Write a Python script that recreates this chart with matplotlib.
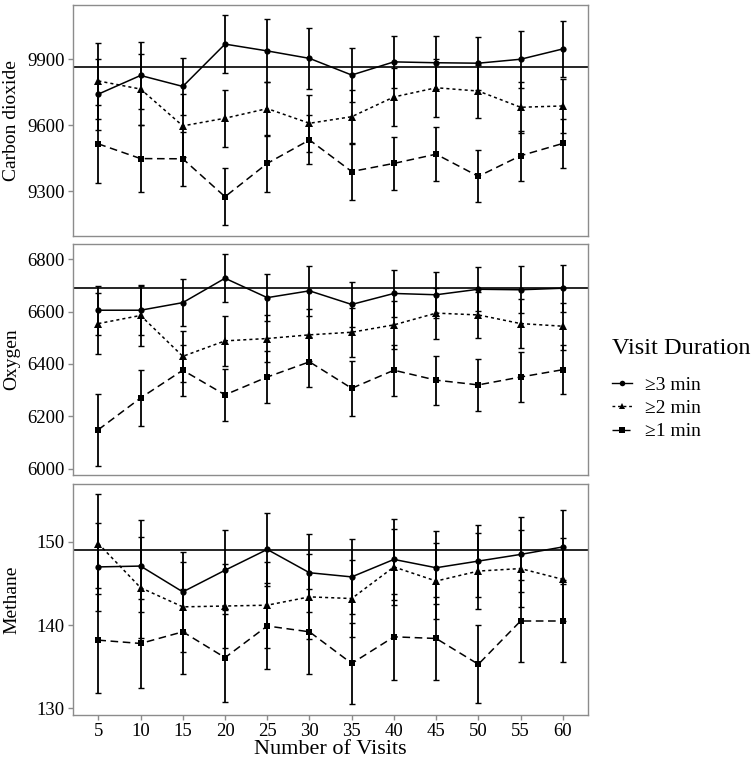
import matplotlib
matplotlib.use("Agg")
import matplotlib.pyplot as plt
from matplotlib.lines import Line2D

plt.rcParams['font.family'] = ['Liberation Serif', 'DejaVu Serif']

# Number of visits (x axis)
visits = [5, 10, 15, 20, 25, 30, 35, 40, 45, 50, 55, 60]

# Carbon dioxide
co2_3 = [9742, 9827, 9777, 9970, 9939, 9905, 9829, 9889, 9885, 9883, 9901, 9948]
co2_3_err = [162, 153, 129, 133, 144, 139, 124, 117, 120, 121, 129, 127]
co2_2 = [9802, 9765, 9597, 9632, 9676, 9609, 9639, 9729, 9771, 9756, 9682, 9688]
co2_2_err = [173, 162, 144, 129, 123, 130, 123, 132, 132, 121, 117, 123]
co2_1 = [9515, 9448, 9447, 9274, 9426, 9533, 9389, 9426, 9468, 9367, 9461, 9517]
co2_1_err = [179, 152, 124, 130, 130, 112, 129, 120, 124, 118, 114, 112]
co2_ref = 9864

# Oxygen
o2_3 = [6605, 6605, 6634, 6727, 6653, 6679, 6627, 6669, 6664, 6685, 6683, 6689]
o2_3_err = [94, 94, 89, 92, 89, 96, 87, 89, 88, 84, 89, 89]
o2_2 = [6554, 6585, 6429, 6488, 6497, 6511, 6521, 6549, 6594, 6587, 6554, 6544]
o2_2_err = [116, 115, 98, 96, 90, 99, 93, 93, 97, 89, 93, 89]
o2_1 = [6149, 6270, 6376, 6282, 6350, 6408, 6307, 6376, 6338, 6320, 6350, 6378]
o2_1_err = [138, 106, 98, 98, 101, 96, 104, 97, 94, 99, 97, 94]
o2_ref = 6689

# Methane
ch4_3 = [147.0, 147.1, 144.0, 146.6, 149.1, 146.3, 145.8, 147.9, 146.9, 147.7, 148.5, 149.4]
ch4_3_err = [5.3, 5.5, 4.8, 4.8, 4.4, 4.7, 4.5, 4.9, 4.4, 4.3, 4.5, 4.4]
ch4_2 = [149.8, 144.5, 142.2, 142.3, 142.4, 143.4, 143.2, 147.0, 145.3, 146.5, 146.8, 145.5]
ch4_2_err = [6.0, 6.1, 5.4, 5.1, 5.2, 5.1, 4.6, 4.6, 4.6, 4.6, 4.6, 5.0]
ch4_1 = [138.2, 137.8, 139.2, 136.1, 139.9, 139.2, 135.4, 138.6, 138.4, 135.3, 140.5, 140.5]
ch4_1_err = [6.3, 5.3, 5.1, 5.3, 5.2, 5.1, 4.9, 5.2, 5.0, 4.7, 4.9, 4.9]
ch4_ref = 149.0

durations = ['\u22653 min', '\u22652 min', '\u22651 min']
linestyles = ['-', (0, (2, 2)), (0, (5, 3))]
markers = ['o', '^', 's']
msizes = [4.5, 5.5, 5]

panels = [
    ('Carbon dioxide', [(co2_3, co2_3_err), (co2_2, co2_2_err), (co2_1, co2_1_err)],
     co2_ref, (9095, 10150), [9300, 9600, 9900]),
    ('Oxygen', [(o2_3, o2_3_err), (o2_2, o2_2_err), (o2_1, o2_1_err)],
     o2_ref, (5976, 6859), [6000, 6200, 6400, 6600, 6800]),
    ('Methane', [(ch4_3, ch4_3_err), (ch4_2, ch4_2_err), (ch4_1, ch4_1_err)],
     ch4_ref, (129.2, 157.0), [130, 140, 150]),
]

fig = plt.figure(figsize=(7.52, 7.61), dpi=100)
left, width = 0.0971, 0.685
bottoms = [0.6899, 0.3758, 0.0604]
height = 0.3040

axes = []
for i, (name, series, ref, ylim, yticks) in enumerate(panels):
    ax = fig.add_axes([left, bottoms[i], width, height])
    axes.append(ax)
    for (vals, err), ls, mk, ms in zip(series, linestyles, markers, msizes):
        ax.errorbar(visits, vals, yerr=err, fmt='none', ecolor='black',
                    elinewidth=1.3, capsize=2.5, capthick=1.0)
        ax.plot(visits, vals, linestyle=ls, color='black', lw=1.1,
                marker=mk, markersize=ms, markeredgewidth=0)
    ax.axhline(ref, color='black', lw=1.2)
    ax.set_xlim(2, 63)
    ax.set_ylim(*ylim)
    ax.set_yticks(yticks)
    ax.set_xticks(visits)
    ax.set_ylabel(name, fontsize=14)
    for s in ax.spines.values():
        s.set_color('#8c8c8c')
        s.set_linewidth(1.0)
    ax.tick_params(colors='#8c8c8c', labelcolor='black', length=3.5,
                   labelsize=13.5, width=1.0, pad=2.5)
    if i < 2:
        ax.tick_params(axis='x', labelbottom=False, length=0)
    else:
        ax.set_xlabel('Number of Visits', fontsize=16, labelpad=0)

for ax in axes:
    ax.yaxis.set_label_coords(-0.102, 0.5)

fig.text(612 / 752, 1 - 348 / 761, 'Visit Duration', ha='left', va='center',
         fontsize=17.5)
handles = [Line2D([0], [0], color='black', linestyle=ls, marker=mk,
                  markersize=ms - 0.5, lw=1.0, markeredgewidth=0)
           for ls, mk, ms in zip(linestyles, markers, msizes)]
fig.legend(handles, durations, loc='upper left',
           bbox_to_anchor=(612 / 752, 1 - 376 / 761), frameon=False,
           fontsize=14, handlelength=1.05, handletextpad=0.65,
           labelspacing=0.3, borderpad=0, borderaxespad=0)

fig.savefig('out.png', dpi=100)
